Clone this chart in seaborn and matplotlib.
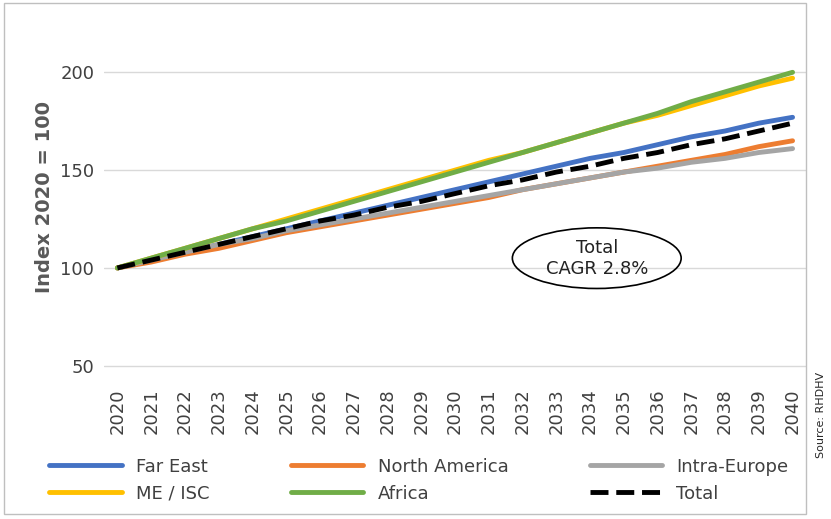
import matplotlib
matplotlib.use("Agg")
import matplotlib.pyplot as plt
import seaborn as sns
import pandas as pd
from matplotlib.patches import Ellipse, Rectangle

years = list(range(2020, 2041))
far_east = [100,104,108,112,116,120,124,128,132,136,140,144,148,152,156,159,163,167,170,174,177]
north_america = [100,103,107,110,114,118,121,124,127,130,133,136,140,143,146,149,152,155,158,162,165]
intra_europe = [100,104,108,112,115,119,122,125,128,131,134,137,140,143,146,149,151,154,156,159,161]
me_isc = [100,105,110,115,120,125,130,135,140,145,150,155,159,164,169,174,178,183,188,193,197]
africa = [100,105,110,115,120,124,129,134,139,144,149,154,159,164,169,174,179,185,190,195,200]
total = [100,104,108,112,116,120,124,127,131,134,138,142,145,149,152,156,159,163,166,170,174]

series = [("Far East", far_east, "#4472C4", "-"),
          ("North America", north_america, "#ED7D31", "-"),
          ("Intra-Europe", intra_europe, "#A5A5A5", "-"),
          ("ME / ISC", me_isc, "#FFC000", "-"),
          ("Africa", africa, "#70AD47", "-"),
          ("Total", total, "black", "--")]

sns.set_style("white")
fig = plt.figure(figsize=(8.31, 5.19), dpi=100)
ax = fig.add_axes([0.125, 0.27, 0.845, 0.70])
for name, vals, c, ls in series:
    df = pd.DataFrame({"year": years, "v": vals})
    sns.lineplot(data=df, x="year", y="v", ax=ax, color=c, linestyle=ls,
                 linewidth=3.5, label=name, zorder=3 if name == "Total" else 2)
ax.set_xlim(2019.6, 2040.4)
ax.set_ylim(43.3, 229)
ax.set_yticks([50, 100, 150, 200])
ax.set_xticks(years)
ax.set_xticklabels([str(y) for y in years], rotation=90, fontsize=13, color="#404040")
ax.tick_params(axis="y", labelsize=13, labelcolor="#404040")
ax.grid(axis="y", color="#D9D9D9", linewidth=1)
for s in ax.spines.values():
    s.set_visible(False)
ax.set_xlabel("")
ax.set_ylabel("Index 2020 = 100", fontsize=14, fontweight="bold", color="#595959")
ax.legend_.remove()
h, l = ax.get_legend_handles_labels()
order = [0, 3, 1, 4, 2, 5]
fig.legend([h[i] for i in order], [l[i] for i in order], ncol=3, loc="lower left",
           bbox_to_anchor=(0.04, 0.0), frameon=False, fontsize=13, handlelength=4,
           columnspacing=4.5, labelcolor="#404040")
ax.add_patch(Ellipse((2034.2, 105), 5.0, 31, fill=False, edgecolor="black", linewidth=1.2))
ax.text(2034.2, 105, "Total\nCAGR 2.8%", ha="center", va="center", fontsize=13, color="#222")
fig.patches.append(Rectangle((0.005, 0.01), 0.965, 0.985, transform=fig.transFigure,
                             fill=False, edgecolor="#BFBFBF", linewidth=1))
fig.text(0.988, 0.2, "Source: RHDHV", rotation=90, fontsize=8, ha="center", va="center")
fig.savefig("out.png", dpi=100)
